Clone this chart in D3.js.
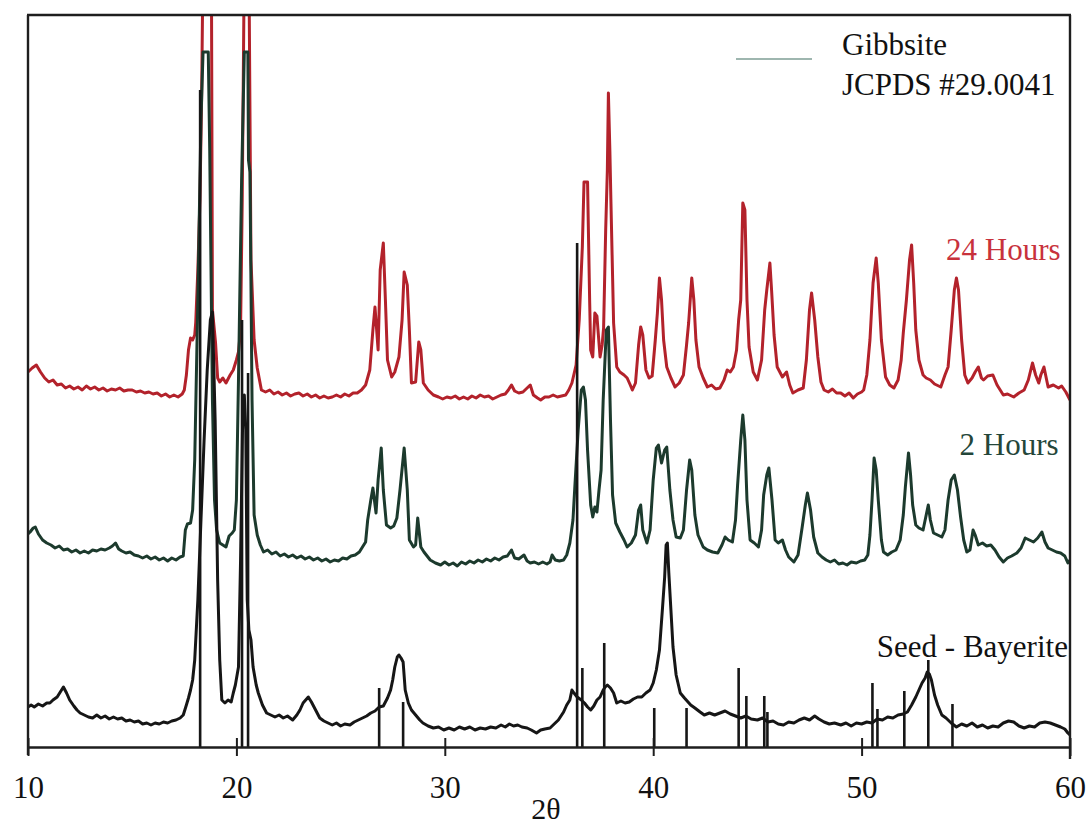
<!DOCTYPE html>
<html>
<head>
<meta charset="utf-8">
<script src="https://cdn.jsdelivr.net/npm/d3@7"></script>
<style>
  body { margin: 0; background: #fff; }
  svg { display: block; }
  text { font-family: "Liberation Serif", "Times New Roman", serif; }
</style>
</head>
<body>
<svg id="chart" width="1087" height="827"></svg>
<script>
// 2theta / intensity (a.u.)
var red24h = [
  [10.0,375],[10.2,379],[10.4,382],[10.6,375],[10.8,369],[11.0,365],[11.2,367],[11.4,362],[11.6,363],[11.8,359],
  [12.0,361],[12.2,358],[12.4,360],[12.6,357],[12.8,361],[13.0,358],[13.2,360],[13.4,357],[13.6,359],[13.8,356],
  [14.0,358],[14.2,357],[14.4,359],[14.6,356],[14.8,357],[15.0,357],[15.2,355],[15.4,356],[15.6,354],[15.8,355],
  [16.0,353],[16.2,354],[16.4,351],[16.6,353],[16.8,350],[17.0,352],[17.2,350],[17.4,353],[17.5,357],[17.6,372],
  [17.7,397],[17.8,409],[17.9,407],[18.0,412],[18.05,425],[18.15,477],[18.25,547],[18.33,647],[18.4,787],[18.8,787],
  [18.85,437],[19.0,404],[19.1,369],[19.2,365],[19.35,369],[19.5,364],[19.7,372],[19.85,377],[20.0,387],[20.1,395],
  [20.2,417],[20.28,547],[20.38,787],[20.6,787],[20.7,487],[20.85,407],[21.0,379],[21.2,357],[21.4,355],[21.6,357],
  [21.8,353],[22.0,355],[22.2,352],[22.4,354],[22.6,351],[22.8,353],[23.0,354],[23.2,351],[23.4,353],[23.6,350],
  [23.8,352],[24.0,349],[24.2,351],[24.4,349],[24.6,350],[24.8,352],[25.0,350],[25.2,353],[25.4,351],[25.6,354],
  [25.8,354],[26.0,357],[26.2,362],[26.4,377],[26.55,417],[26.65,440],[26.8,397],[26.9,477],[27.05,504],[27.15,447],
  [27.25,387],[27.45,370],[27.6,375],[27.8,390],[27.95,427],[28.05,475],[28.2,462],[28.3,417],[28.4,364],[28.6,365],
  [28.75,405],[28.85,397],[28.97,364],[29.2,357],[29.45,352],[29.7,350],[29.9,348],[30.1,350],[30.3,349],[30.5,351],
  [30.7,348],[30.9,350],[31.1,348],[31.3,351],[31.5,349],[31.7,352],[31.9,350],[32.1,351],[32.3,348],[32.5,350],
  [32.7,352],[32.9,353],[33.05,357],[33.2,362],[33.35,356],[33.55,354],[33.75,355],[33.95,359],[34.1,362],[34.25,352],
  [34.45,349],[34.6,347],[34.8,350],[35.0,350],[35.2,352],[35.4,350],[35.6,351],[35.8,352],[35.95,357],[36.1,364],
  [36.3,382],[36.45,427],[36.6,500],[36.68,565],[36.85,565],[36.95,447],[37.0,397],[37.1,390],[37.2,434],[37.3,431],
  [37.45,390],[37.55,402],[37.62,419],[37.72,517],[37.8,577],[37.85,654],[37.92,597],[37.97,547],[38.1,424],[38.25,380],
  [38.4,375],[38.6,372],[38.75,369],[38.9,362],[39.0,357],[39.15,364],[39.3,402],[39.4,420],[39.5,412],[39.65,377],
  [39.8,369],[39.95,371],[40.1,407],[40.2,434],[40.3,469],[40.4,447],[40.5,407],[40.65,380],[40.85,369],[41.05,360],
  [41.25,364],[41.45,372],[41.6,402],[41.7,424],[41.85,469],[41.95,447],[42.05,407],[42.2,380],[42.4,369],[42.6,360],
  [42.8,362],[43.0,358],[43.2,359],[43.4,367],[43.55,377],[43.7,375],[43.85,380],[44.0,397],[44.1,427],[44.2,447],
  [44.3,544],[44.4,537],[44.5,447],[44.6,400],[44.8,375],[45.0,367],[45.2,387],[45.35,437],[45.45,457],[45.6,484],
  [45.68,457],[45.8,412],[45.95,380],[46.2,370],[46.4,375],[46.55,362],[46.7,354],[46.95,357],[47.2,359],[47.35,387],
  [47.5,437],[47.6,454],[47.75,427],[47.9,390],[48.05,365],[48.2,357],[48.4,355],[48.6,358],[48.8,354],[49.0,354],
  [49.2,351],[49.4,354],[49.6,349],[49.8,353],[50.0,355],[50.1,357],[50.25,372],[50.4,407],[50.55,464],[50.7,489],
  [50.8,464],[50.95,407],[51.15,370],[51.35,362],[51.55,359],[51.75,367],[51.9,387],[52.0,414],[52.15,447],[52.3,487],
  [52.4,502],[52.5,464],[52.6,417],[52.75,387],[52.95,372],[53.1,369],[53.3,367],[53.5,363],[53.8,360],[54.0,372],
  [54.15,380],[54.3,417],[54.45,457],[54.55,469],[54.65,457],[54.8,407],[54.95,372],[55.1,364],[55.3,369],[55.45,375],
  [55.6,380],[55.75,369],[55.85,367],[56.05,371],[56.3,372],[56.5,362],[56.8,352],[57.0,353],[57.3,350],[57.55,354],
  [57.8,357],[58.0,367],[58.2,384],[58.35,372],[58.5,364],[58.6,372],[58.75,380],[58.95,360],[59.2,362],[59.45,359],
  [59.6,361],[59.8,355],[60.0,347]
];

var green2h = [
  [10.0,213],[10.1,215],[10.25,219],[10.35,220],[10.5,213],[10.7,207],[10.9,204],[11.1,202],[11.3,199],[11.5,201],
  [11.7,197],[11.9,198],[12.1,195],[12.3,197],[12.5,194],[12.7,196],[12.9,194],[13.1,197],[13.3,196],[13.5,198],
  [13.7,197],[13.9,199],[14.05,201],[14.2,204],[14.35,198],[14.5,196],[14.7,194],[14.9,195],[15.1,192],[15.3,191],
  [15.5,189],[15.7,191],[15.9,188],[16.1,190],[16.3,187],[16.5,189],[16.7,186],[16.9,189],[17.1,187],[17.3,190],
  [17.45,191],[17.55,217],[17.65,223],[17.8,224],[17.9,237],[18.0,287],[18.15,447],[18.3,627],[18.4,695],[18.65,695],
  [18.72,597],[18.85,347],[18.95,247],[19.05,217],[19.2,204],[19.35,202],[19.5,200],[19.65,211],[19.8,214],[19.9,217],
  [20.0,247],[20.1,367],[20.25,567],[20.38,695],[20.55,695],[20.58,587],[20.65,575],[20.75,347],[20.85,232],[21.0,212],
  [21.15,202],[21.3,195],[21.5,197],[21.7,193],[21.9,195],[22.1,191],[22.3,193],[22.5,190],[22.7,192],[22.9,189],
  [23.1,191],[23.3,188],[23.5,190],[23.7,187],[23.9,189],[24.1,186],[24.3,188],[24.5,185],[24.7,187],[24.9,186],
  [25.1,189],[25.3,188],[25.5,191],[25.7,192],[25.9,195],[26.05,200],[26.2,205],[26.3,227],[26.45,247],[26.55,259],
  [26.7,234],[26.8,267],[26.95,299],[27.05,257],[27.2,222],[27.4,219],[27.55,221],[27.7,229],[27.85,257],[28.05,299],
  [28.2,257],[28.3,207],[28.5,200],[28.6,202],[28.7,229],[28.85,200],[29.0,195],[29.3,187],[29.55,184],[29.8,182],
  [30.0,185],[30.2,182],[30.4,184],[30.6,181],[30.8,185],[31.0,183],[31.2,186],[31.4,184],[31.6,187],[31.8,185],
  [32.0,188],[32.2,186],[32.4,189],[32.6,187],[32.8,190],[33.0,191],[33.2,197],[33.35,189],[33.55,188],[33.8,192],
  [33.95,186],[34.1,184],[34.3,185],[34.5,183],[34.7,185],[34.9,183],[35.05,185],[35.15,192],[35.3,187],[35.5,186],
  [35.7,187],[35.85,192],[36.0,204],[36.15,227],[36.25,264],[36.4,317],[36.55,357],[36.65,360],[36.75,347],[36.85,297],
  [37.0,242],[37.1,230],[37.2,240],[37.3,235],[37.4,257],[37.5,277],[37.6,347],[37.75,417],[37.85,420],[37.95,327],
  [38.05,252],[38.2,224],[38.4,215],[38.6,207],[38.75,200],[38.95,204],[39.15,212],[39.3,237],[39.4,242],[39.5,217],
  [39.7,204],[39.85,217],[40.0,267],[40.15,299],[40.25,302],[40.4,284],[40.55,297],[40.65,300],[40.8,257],[40.95,227],
  [41.1,210],[41.3,209],[41.45,217],[41.6,257],[41.75,287],[41.85,277],[42.0,232],[42.15,212],[42.4,200],[42.6,197],
  [42.85,195],[43.1,194],[43.3,202],[43.45,210],[43.6,207],[43.8,205],[43.95,227],[44.05,262],[44.2,307],[44.3,332],
  [44.4,307],[44.5,247],[44.65,207],[44.85,204],[45.05,200],[45.2,217],[45.3,252],[45.45,272],[45.55,279],[45.7,247],
  [45.85,207],[46.0,204],[46.2,207],[46.35,197],[46.5,190],[46.75,185],[46.95,192],[47.15,220],[47.3,242],[47.4,254],
  [47.55,237],[47.7,210],[47.9,194],[48.1,190],[48.3,187],[48.5,185],[48.7,187],[48.9,183],[49.1,184],[49.3,182],
  [49.5,185],[49.75,184],[49.95,186],[50.15,187],[50.3,192],[50.4,212],[50.5,247],[50.6,289],[50.7,277],[50.8,247],
  [50.95,207],[51.05,195],[51.25,192],[51.45,195],[51.65,197],[51.85,207],[52.0,232],[52.1,260],[52.25,294],[52.35,272],
  [52.45,242],[52.6,222],[52.75,219],[52.95,217],[53.1,232],[53.2,242],[53.3,227],[53.45,214],[53.65,212],[53.85,210],
  [54.0,217],[54.15,247],[54.3,267],[54.45,272],[54.6,257],[54.75,230],[54.9,207],[55.05,195],[55.2,197],[55.35,217],
  [55.45,212],[55.6,202],[55.8,204],[56.0,201],[56.2,202],[56.4,197],[56.6,190],[56.8,185],[57.0,189],[57.2,191],
  [57.45,194],[57.65,199],[57.85,209],[58.05,207],[58.25,205],[58.45,209],[58.65,215],[58.8,205],[58.95,199],[59.15,197],
  [59.35,195],[59.55,194],[59.75,191],[59.9,184],[60.0,187]
];

var seedBayerite = [
  [10.0,40],[10.15,42],[10.3,40],[10.5,43],[10.7,41],[10.9,44],[11.05,44],[11.2,47],[11.4,50],[11.55,55],
  [11.7,60],[11.85,54],[12.0,47],[12.2,41],[12.35,37],[12.5,34],[12.7,32],[12.9,30],[13.1,29],[13.3,32],
  [13.5,29],[13.7,31],[13.9,28],[14.1,30],[14.3,28],[14.5,29],[14.7,26],[14.9,27],[15.1,25],[15.3,26],
  [15.5,23],[15.7,24],[15.9,22],[16.1,24],[16.3,23],[16.5,25],[16.7,24],[16.9,26],[17.1,27],[17.3,29],
  [17.45,32],[17.6,42],[17.7,49],[17.8,57],[17.9,67],[18.0,87],[18.15,147],[18.3,227],[18.45,307],[18.6,377],
  [18.75,427],[18.85,435],[18.98,327],[19.1,167],[19.2,87],[19.3,47],[19.45,44],[19.6,47],[19.75,45],[19.85,54],
  [19.95,62],[20.1,80],[20.2,187],[20.3,327],[20.38,352],[20.45,317],[20.52,147],[20.6,117],[20.7,107],[20.8,80],
  [20.95,62],[21.05,54],[21.25,42],[21.45,34],[21.65,32],[21.85,30],[22.05,32],[22.25,29],[22.45,31],[22.7,27],
  [22.9,32],[23.05,37],[23.2,44],[23.45,50],[23.6,45],[23.8,37],[24.0,29],[24.2,26],[24.4,24],[24.6,22],
  [24.8,24],[25.0,21],[25.2,23],[25.45,22],[25.65,25],[25.85,27],[26.05,29],[26.25,31],[26.45,34],[26.65,36],
  [26.85,40],[27.05,41],[27.25,49],[27.4,57],[27.5,67],[27.6,80],[27.72,90],[27.8,92],[27.9,89],[28.0,85],
  [28.1,57],[28.25,44],[28.4,37],[28.6,32],[28.8,27],[28.95,24],[29.2,21],[29.45,19],[29.7,20],[29.95,17],
  [30.2,19],[30.45,17],[30.7,20],[30.95,18],[31.2,20],[31.45,17],[31.7,19],[31.95,18],[32.2,20],[32.45,19],
  [32.7,22],[32.9,20],[33.1,23],[33.3,21],[33.5,22],[33.7,20],[33.95,19],[34.15,17],[34.4,14],[34.6,17],
  [34.8,18],[35.05,19],[35.25,23],[35.45,27],[35.7,35],[35.85,42],[36.0,47],[36.1,57],[36.2,54],[36.35,50],
  [36.55,47],[36.7,44],[36.85,40],[37.0,37],[37.15,41],[37.3,47],[37.45,50],[37.6,57],[37.7,60],[37.8,62],
  [37.95,59],[38.1,54],[38.25,44],[38.45,46],[38.65,44],[38.85,45],[39.05,48],[39.25,50],[39.45,50],[39.65,54],
  [39.85,57],[40.0,64],[40.15,77],[40.3,97],[40.45,140],[40.55,170],[40.62,202],[40.68,204],[40.75,174],[40.85,137],
  [40.95,100],[41.1,72],[41.3,54],[41.5,49],[41.8,42],[42.0,39],[42.25,35],[42.45,32],[42.7,34],[42.95,32],
  [43.2,34],[43.45,36],[43.7,33],[43.95,31],[44.2,29],[44.45,31],[44.7,28],[45.0,27],[45.25,29],[45.5,25],
  [45.75,26],[46.0,23],[46.25,22],[46.5,25],[46.75,24],[47.0,27],[47.25,29],[47.5,27],[47.75,31],[47.95,28],
  [48.2,25],[48.45,23],[48.7,24],[49.0,22],[49.25,24],[49.5,21],[49.75,24],[50.0,23],[50.25,25],[50.5,24],
  [50.75,28],[51.0,27],[51.25,30],[51.5,29],[51.75,32],[52.0,33],[52.2,35],[52.4,42],[52.6,50],[52.75,57],
  [52.9,64],[53.05,69],[53.15,75],[53.25,73],[53.35,67],[53.5,52],[53.65,42],[53.85,32],[54.05,29],[54.3,24],
  [54.55,20],[54.8,23],[55.05,21],[55.3,24],[55.55,20],[55.8,22],[56.05,19],[56.3,21],[56.55,20],[56.8,24],
  [57.05,26],[57.3,25],[57.55,21],[57.8,19],[58.05,21],[58.3,20],[58.55,24],[58.8,25],[59.05,24],[59.3,22],
  [59.55,20],[59.75,18],[59.9,14],[60.0,12]
];

// Gibbsite JCPDS #29.0041 reference lines
var gibbsitePos = [18.26, 20.27, 20.56, 26.85, 28.0, 36.35, 36.6, 37.65, 40.05, 41.6,
                   44.1, 44.47, 45.33, 45.48, 50.52, 50.76, 52.05, 53.2, 54.36];
var gibbsiteInt = [657, 427, 374, 59, 45, 504, 79, 104, 39, 39,
                   79, 51, 51, 35, 64, 38, 56, 87, 43];

var xTicks = [10, 20, 30, 40, 50, 60];

var labels = [
  { text: "24 Hours", t: 59.55, v: 487, color: "#c8323c" },
  { text: "2 Hours", t: 59.45, v: 292, color: "#24463a" },
  { text: "Seed - Bayerite", t: 59.9, v: 90, color: "#111" }
];

var svg = d3.select("#chart");
var mLeft = 28, mRight = 1070, mTop = 15, mBottom = 747;

var x = d3.scaleLinear().domain([10, 60]).range([mLeft, mRight]);
var y = d3.scaleLinear().domain([0, 732]).range([mBottom, mTop]);

svg.append("clipPath").attr("id", "plotclip")
  .append("rect").attr("x", mLeft).attr("y", mTop - 1)
  .attr("width", mRight - mLeft).attr("height", mBottom - mTop + 1);

var line = d3.line()
  .x(function(d) { return x(d[0]); })
  .y(function(d) { return y(d[1]); });

var plot = svg.append("g").attr("clip-path", "url(#plotclip)");

plot.append("path").datum(red24h)
  .attr("d", line).attr("fill", "none")
  .attr("stroke", "#b3222b").attr("stroke-width", 3).attr("stroke-linejoin", "round");

plot.append("path").datum(green2h)
  .attr("d", line).attr("fill", "none")
  .attr("stroke", "#1c3a2d").attr("stroke-width", 3).attr("stroke-linejoin", "round");

plot.append("path").datum(seedBayerite)
  .attr("d", line).attr("fill", "none")
  .attr("stroke", "#161616").attr("stroke-width", 3).attr("stroke-linejoin", "round");

plot.selectAll(".stick")
  .data(gibbsitePos)
  .enter().append("line")
  .attr("class", "stick")
  .attr("x1", function(d) { return x(d); })
  .attr("x2", function(d) { return x(d); })
  .attr("y1", y(0))
  .attr("y2", function(d, i) { return y(gibbsiteInt[i]); })
  .attr("stroke", "#161616").attr("stroke-width", 2.6);

// frame
svg.append("line").attr("x1", mLeft - 1).attr("x2", mRight + 1).attr("y1", mTop).attr("y2", mTop)
  .attr("stroke", "#1e1e1e").attr("stroke-width", 2.4);
svg.append("line").attr("x1", mLeft).attr("x2", mLeft).attr("y1", mTop).attr("y2", mBottom + 8)
  .attr("stroke", "#1e1e1e").attr("stroke-width", 2.4);
svg.append("line").attr("x1", mRight).attr("x2", mRight).attr("y1", mTop).attr("y2", mBottom + 12)
  .attr("stroke", "#1e1e1e").attr("stroke-width", 2.4);

// bottom axis
var xAxis = d3.axisBottom(x).tickValues(xTicks).tickSizeInner(9).tickSizeOuter(0).tickPadding(20);
var ax = svg.append("g").attr("transform", "translate(0," + mBottom + ")").call(xAxis);
ax.select(".domain").attr("stroke", "#1e1e1e").attr("stroke-width", 2.4);
ax.selectAll(".tick line").attr("y1", -9).attr("stroke", "#1e1e1e").attr("stroke-width", 2);
ax.selectAll(".tick text")
  .attr("font-family", "Liberation Serif, Times New Roman, serif")
  .attr("font-size", 31).attr("fill", "#111");

svg.append("text").attr("x", (mLeft + mRight) / 2 - 3).attr("y", 819)
  .attr("text-anchor", "middle").attr("font-size", 30).attr("fill", "#111")
  .text("2\u03B8");

// legend
svg.append("line").attr("x1", 736).attr("x2", 812).attr("y1", 59).attr("y2", 59)
  .attr("stroke", "#3f6f60").attr("stroke-width", 1.2);
svg.append("text").attr("x", 842).attr("y", 55).attr("font-size", 31).attr("fill", "#111")
  .text("Gibbsite");
svg.append("text").attr("x", 842).attr("y", 95).attr("font-size", 31).attr("fill", "#111")
  .text("JCPDS #29.0041");

svg.selectAll(".lbl")
  .data(labels)
  .enter().append("text")
  .attr("class", "lbl")
  .attr("x", function(d) { return x(d.t); })
  .attr("y", function(d) { return y(d.v); })
  .attr("text-anchor", "end")
  .attr("font-size", 31)
  .attr("fill", function(d) { return d.color; })
  .text(function(d) { return d.text; });
</script>
</body>
</html>
